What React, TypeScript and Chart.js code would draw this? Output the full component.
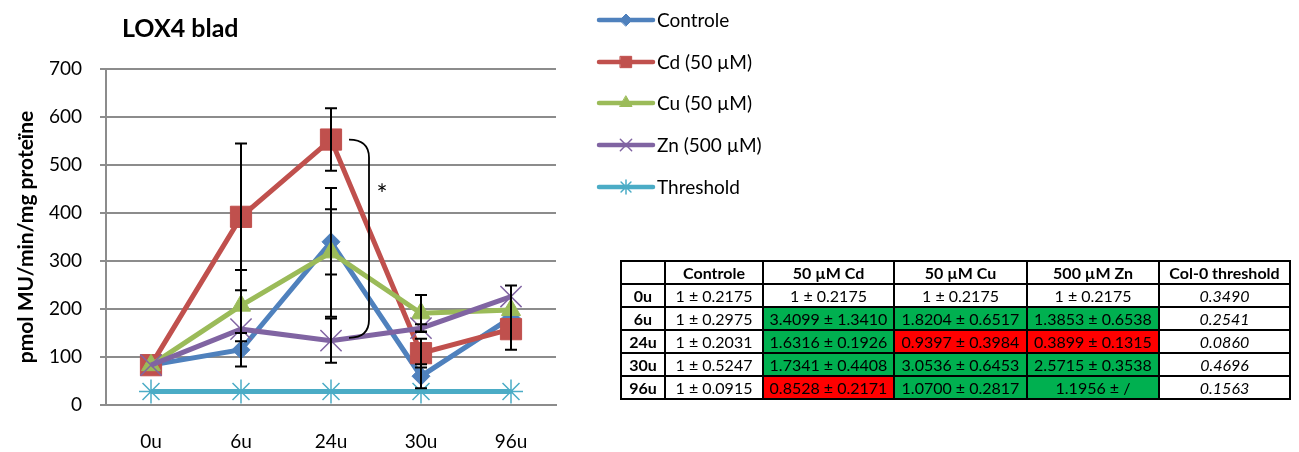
import React, { useEffect, useRef } from "react";
import { Chart, registerables } from "chart.js";
import { drawPoint } from "chart.js/helpers";

Chart.register(...registerables);

const categories = ["0u", "6u", "24u", "30u", "96u"];
const controle = [83, 115, 340, 60, 182];
const controleErr = [0, 35, 68, 25, 67];
const cd = [83, 392, 553, 108, 158];
const cdErr = [0, 153, 65, 30, 0];
const cu = [83, 207, 318, 191, 198];
const cuErr = [0, 74, 134, 38, 0];
const zn = [83, 158, 134, 160, 226];
const znErr = [0, 0, 46, 8, 0];
const threshold = [28, 28, 28, 28, 28];

const seriesNames = ["Controle", "Cd (50 µM)", "Cu (50 µM)", "Zn (500 µM)", "Threshold"];
const yTicks = [0, 100, 200, 300, 400, 500, 600, 700];

const tableHeader = ["", "Controle", "50 µM Cd", "50 µM Cu", "500 µM Zn", "Col-0 threshold"];
const tableRows = ["0u", "6u", "24u", "30u", "96u"];
const tableControle = ["1 ± 0.2175", "1 ± 0.2975", "1 ± 0.2031", "1 ± 0.5247", "1 ± 0.0915"];
const tableCd = ["1 ± 0.2175", "3.4099 ± 1.3410", "1.6316 ± 0.1926", "1.7341 ± 0.4408", "0.8528 ± 0.2171"];
const tableCu = ["1 ± 0.2175", "1.8204 ± 0.6517", "0.9397 ± 0.3984", "3.0536 ± 0.6453", "1.0700 ± 0.2817"];
const tableZn = ["1 ± 0.2175", "1.3853 ± 0.6538", "0.3899 ± 0.1315", "2.5715 ± 0.3538", "1.1956 ± /"];
const tableThreshold = ["0.3490", "0.2541", "0.0860", "0.4696", "0.1563"];
// "" = white, "g" = green (up), "r" = red (down)
const tableCdSig = ["", "g", "g", "g", "r"];
const tableCuSig = ["", "g", "r", "g", "g"];
const tableZnSig = ["", "g", "r", "g", "g"];

const FONT = "Lato, 'Open Sans', sans-serif";
const colors = ["#4F81BD", "#C0504D", "#9BBB59", "#8064A2", "#4BACC6"];
const styles = ["rectRot", "rect", "triangle", "crossRot", "star"];
const radii = [9, 15, 11, 15, 12];
const legendRadii = [6, 8, 7, 8, 7];
const values = [controle, cd, cu, zn, threshold];
const errors = [controleErr, cdErr, cuErr, znErr, null];

const titlePlugin = {
  id: "titleText",
  afterDraw(chart: any) {
    const ctx = chart.ctx;
    ctx.save();
    ctx.font = `bold 25px ${FONT}`;
    ctx.fillStyle = "#000";
    ctx.textBaseline = "middle";
    ctx.textAlign = "left";
    ctx.fillText("LOX4 blad", 122, 29);
    ctx.restore();
  },
};

const legendPlugin = {
  id: "customLegend",
  afterDraw(chart: any) {
    const ctx = chart.ctx;
    const ys = [20, 62, 103, 145, 187];
    ctx.save();
    seriesNames.forEach((name, i) => {
      const y = ys[i];
      ctx.strokeStyle = colors[i];
      ctx.fillStyle = colors[i];
      ctx.lineWidth = 4.5;
      ctx.lineCap = "round";
      ctx.beginPath();
      ctx.moveTo(599, y);
      ctx.lineTo(653, y);
      ctx.stroke();
      ctx.lineWidth = i >= 3 ? 1.5 : 1;
      drawPoint(
        ctx,
        {
          pointStyle: styles[i],
          radius: legendRadii[i],
          rotation: 0,
          borderWidth: i >= 3 ? 1.5 : 1,
        } as any,
        626,
        y
      );
      ctx.fillStyle = "#000";
      ctx.font = `19px ${FONT}`;
      ctx.textBaseline = "middle";
      ctx.textAlign = "left";
      ctx.fillText(name, 657, y + 1);
    });
    ctx.restore();
  },
};

const errorBarPlugin = {
  id: "errorBars",
  afterDatasetsDraw(chart: any) {
    const ctx = chart.ctx;
    const xs = chart.scales.x;
    const ys = chart.scales.y;
    ctx.save();
    ctx.strokeStyle = "#000";
    ctx.lineWidth = 2;
    errors.forEach((errArr, di) => {
      if (!errArr) return;
      errArr.forEach((e, i) => {
        if (!e) return;
        const v = values[di][i];
        const x = xs.getPixelForValue(i);
        const yt = ys.getPixelForValue(v + e);
        const yb = ys.getPixelForValue(v - e);
        ctx.beginPath();
        ctx.moveTo(x, yt);
        ctx.lineTo(x, yb);
        ctx.moveTo(x - 6, yt);
        ctx.lineTo(x + 6, yt);
        ctx.moveTo(x - 6, yb);
        ctx.lineTo(x + 6, yb);
        ctx.stroke();
      });
    });
    // significance bracket at 24u between Cd and Zn
    const bx = xs.getPixelForValue(2);
    const top = ys.getPixelForValue(cd[2]);
    const bot = ys.getPixelForValue(zn[2] + 6);
    ctx.lineWidth = 1.8;
    ctx.beginPath();
    ctx.moveTo(bx + 18, top);
    ctx.quadraticCurveTo(bx + 38, top, bx + 38, top + 18);
    ctx.lineTo(bx + 38, bot - 18);
    ctx.quadraticCurveTo(bx + 38, bot, bx + 18, bot);
    ctx.stroke();
    ctx.fillStyle = "#000";
    ctx.font = `26px ${FONT}`;
    ctx.textAlign = "center";
    ctx.textBaseline = "middle";
    ctx.fillText("*", bx + 51, top + 56);
    ctx.restore();
  },
};

function ChartView() {
  const ref = useRef<HTMLCanvasElement>(null);
  useEffect(() => {
    if (!ref.current) return;
    const datasets = values.map((data, i) => ({
      label: seriesNames[i],
      data,
      borderColor: colors[i],
      backgroundColor: colors[i],
      pointBackgroundColor: colors[i],
      pointBorderColor: colors[i],
      pointBorderWidth: i >= 3 ? 1.5 : 1,
      borderWidth: 5,
      pointStyle: styles[i],
      pointRadius: radii[i],
      tension: 0,
      order: 5 - i,
    }));
    const chart = new Chart(ref.current, {
      type: "line",
      data: { labels: categories, datasets },
      options: {
        animation: false,
        responsive: false,
        maintainAspectRatio: false,
        events: [],
        layout: { padding: { left: 0, top: 69, right: 743, bottom: 0 } },
        plugins: {
          legend: { display: false },
          tooltip: { enabled: false },
          title: { display: false },
        },
        scales: {
          x: {
            offset: true,
            grid: { display: false, drawTicks: false },
            border: { display: true, color: "#8c8c8c", width: 2 },
            ticks: {
              padding: 25,
              color: "#000",
              font: { family: FONT, size: 19 },
            },
            afterFit(scale: any) {
              scale.height = 47;
            },
          },
          y: {
            min: 0,
            max: 700,
            afterBuildTicks(scale: any) {
              scale.ticks = yTicks.map((v) => ({ value: v }));
            },
            grid: {
              color: "#8c8c8c",
              lineWidth: 2,
              drawTicks: true,
              tickLength: 6,
            },
            border: { display: true, color: "#8c8c8c", width: 2 },
            ticks: {
              padding: 18,
              color: "#000",
              font: { family: FONT, size: 19 },
            },
            title: {
              display: true,
              text: "pmol MU/min/mg proteïne",
              color: "#000",
              font: { family: FONT, size: 21, weight: "bold" },
              padding: { top: 14, bottom: 0 },
            },
            afterFit(scale: any) {
              scale.width = 106;
            },
          },
        },
      } as any,
      plugins: [titlePlugin, legendPlugin, errorBarPlugin],
    });
    return () => chart.destroy();
  }, []);
  return <canvas ref={ref} width={1299} height={452} style={{ display: "block" }} />;
}

const cellBase: React.CSSProperties = {
  border: "2px solid #000",
  padding: 0,
  textAlign: "center",
  verticalAlign: "middle",
  height: 21,
  lineHeight: "19px",
  whiteSpace: "nowrap",
};

function sigColor(s: string) {
  if (s === "g") return "#00B050";
  if (s === "r") return "#FF0000";
  return "#fff";
}

function DataTable() {
  const widths = [44, 98, 131, 133, 132, 131];
  return (
    <table
      style={{
        position: "absolute",
        left: 620,
        top: 260,
        borderCollapse: "collapse",
        fontFamily: FONT,
        fontSize: 16,
        color: "#000",
        tableLayout: "fixed",
        width: 670,
      }}
    >
      <colgroup>
        {widths.map((w, i) => (
          <col key={i} style={{ width: w }} />
        ))}
      </colgroup>
      <thead>
        <tr>
          {tableHeader.map((h, i) => (
            <th key={i} style={{ ...cellBase, fontWeight: "bold" }}>
              {h}
            </th>
          ))}
        </tr>
      </thead>
      <tbody>
        {tableRows.map((r, i) => (
          <tr key={r}>
            <td style={{ ...cellBase, fontWeight: "bold" }}>{r}</td>
            <td style={cellBase}>{tableControle[i]}</td>
            <td style={{ ...cellBase, background: sigColor(tableCdSig[i]) }}>{tableCd[i]}</td>
            <td style={{ ...cellBase, background: sigColor(tableCuSig[i]) }}>{tableCu[i]}</td>
            <td style={{ ...cellBase, background: sigColor(tableZnSig[i]) }}>{tableZn[i]}</td>
            <td style={{ ...cellBase, fontStyle: "italic" }}>{tableThreshold[i]}</td>
          </tr>
        ))}
      </tbody>
    </table>
  );
}

export default function App() {
  return (
    <div style={{ position: "absolute", left: 0, top: 0, width: 1299, height: 452, background: "#fff" }}>
      <ChartView />
      <DataTable />
    </div>
  );
}
